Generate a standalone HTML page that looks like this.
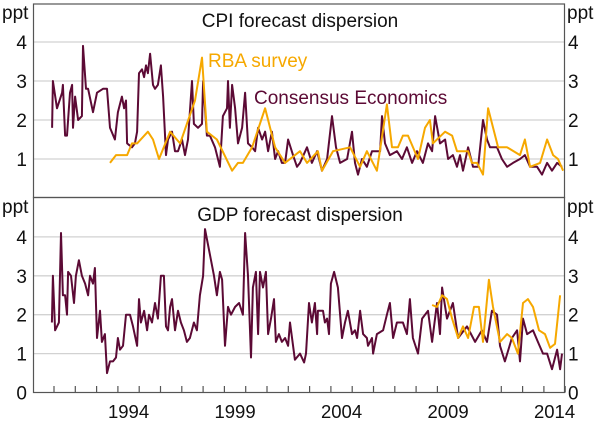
<!DOCTYPE html>
<html><head><meta charset="utf-8">
<style>
html,body{margin:0;padding:0;background:#fff;}
svg{display:block;font-family:"Liberation Sans",Arial,sans-serif;}
</style></head>
<body>
<svg id="chart" width="600" height="423" viewBox="0 0 600 423" xmlns="http://www.w3.org/2000/svg"></svg>
<script>
// ---- data ----
const yearTicks = [1991,1992,1993,1994,1995,1996,1997,1998,1999,2000,2001,2002,2003,2004,2005,2006,2007,2008,2009,2010,2011,2012,2013,2014,2015];
const yearLabels = [1994,1999,2004,2009,2014];
const yTicks = [0,1,2,3,4];

const cpiConsDates = [1990.91,1990.95,1991.14,1991.38,1991.42,1991.52,1991.61,1991.75,1991.85,1991.89,1991.99,1992.13,1992.31,1992.36,1992.5,1992.6,1992.83,1993.02,1993.3,1993.49,1993.63,1993.86,1994.0,1994.19,1994.29,1994.38,1994.43,1994.66,1994.8,1994.9,1994.99,1995.13,1995.23,1995.32,1995.41,1995.51,1995.65,1995.74,1995.88,1996.02,1996.12,1996.26,1996.35,1996.54,1996.68,1996.82,1997.01,1997.15,1997.29,1997.48,1997.57,1997.76,1997.95,1998.0,1998.18,1998.32,1998.56,1998.79,1998.93,1999.12,1999.17,1999.26,1999.36,1999.5,1999.64,1999.83,1999.97,2000.11,2000.3,2000.44,2000.58,2000.77,2000.91,2001.05,2001.23,2001.38,2001.52,2001.7,2001.85,2001.99,2002.22,2002.41,2002.55,2002.88,2003.11,2003.35,2003.58,2003.82,2004.05,2004.24,2004.43,2004.76,2004.99,2005.13,2005.27,2005.46,2005.69,2005.93,2006.31,2006.4,2006.54,2006.77,2007.1,2007.34,2007.57,2007.81,2008.04,2008.32,2008.56,2008.75,2008.89,2009.12,2009.36,2009.5,2009.73,2009.92,2010.06,2010.2,2010.44,2010.67,2010.91,2011.14,2011.33,2011.47,2011.8,2012.03,2012.27,2012.55,2012.88,2013.11,2013.35,2013.68,2013.91,2014.15,2014.38,2014.62,2014.85];
const cpiConsValues = [1.8,3.0,2.3,2.7,2.9,1.6,1.6,2.7,2.9,1.8,2.6,2.0,2.1,3.9,2.8,2.8,2.2,2.7,2.8,2.8,1.8,1.5,2.2,2.6,2.3,2.5,1.4,1.3,1.4,1.7,3.2,3.3,3.1,3.4,3.2,3.7,2.9,2.8,2.9,3.4,2.6,1.1,1.5,1.7,1.2,1.2,1.5,1.1,1.5,3.0,1.9,1.8,1.9,3.0,1.6,1.6,1.3,0.8,2.1,2.3,3.0,1.8,2.9,2.3,1.4,1.8,2.7,1.4,1.3,1.2,1.8,1.5,1.7,1.2,1.7,1.0,1.2,0.9,0.9,1.5,1.1,0.8,0.9,1.3,0.9,1.2,0.7,1.0,2.1,1.3,0.9,1.0,1.7,0.9,0.6,1.0,0.8,1.2,1.2,2.1,1.4,1.1,1.2,1.0,1.3,0.9,1.2,0.9,1.4,1.2,2.1,1.4,1.5,1.0,1.1,0.8,1.1,0.7,1.3,0.8,0.8,2.0,1.5,1.3,1.3,1.0,0.8,0.9,1.0,1.1,0.8,0.8,0.6,0.9,0.7,0.9,0.8];

const cpiRbaDates = [1993.63,1993.91,1994.43,1994.66,1994.9,1995.41,1995.65,1995.93,1996.45,1996.92,1997.62,1997.95,1998.18,1998.65,1999.36,1999.64,1999.87,2000.3,2000.91,2001.38,2001.85,2002.55,2002.88,2003.39,2003.58,2004.1,2004.9,2005.37,2005.69,2006.16,2006.63,2006.87,2007.15,2007.38,2007.62,2008.09,2008.42,2008.65,2008.79,2009.36,2009.69,2009.92,2010.44,2010.62,2010.86,2011.14,2011.38,2011.85,2012.27,2012.88,2013.11,2013.35,2013.82,2014.15,2014.43,2014.66,2014.9];
const cpiRbaValues = [0.9,1.1,1.1,1.4,1.4,1.7,1.5,1.0,1.7,1.4,2.5,3.6,1.7,1.5,0.7,0.9,0.9,1.3,2.3,1.3,0.9,1.2,0.9,1.2,0.7,1.2,1.3,0.8,1.2,0.7,2.4,1.3,1.3,1.6,1.6,1.0,1.8,2.0,1.4,1.7,1.6,1.2,1.2,0.9,0.9,0.6,2.3,1.3,1.3,1.1,1.5,0.8,0.9,1.5,1.1,1.0,0.7];

const gdpConsDates = [1990.9,1990.95,1991.05,1991.14,1991.23,1991.33,1991.42,1991.52,1991.61,1991.66,1991.8,1991.94,1992.03,1992.17,1992.31,1992.46,1992.6,1992.69,1992.83,1992.92,1993.02,1993.16,1993.25,1993.39,1993.49,1993.63,1993.77,1993.91,1994.0,1994.1,1994.24,1994.38,1994.57,1994.71,1994.9,1994.99,1995.08,1995.23,1995.37,1995.46,1995.6,1995.74,1995.88,1996.02,1996.16,1996.26,1996.35,1996.45,1996.54,1996.68,1996.82,1996.96,1997.1,1997.24,1997.38,1997.57,1997.71,1997.85,1998.0,1998.09,1998.23,1998.37,1998.51,1998.65,1998.79,1998.89,1999.03,1999.17,1999.31,1999.5,1999.69,1999.87,1999.97,2000.11,2000.25,2000.34,2000.48,2000.58,2000.67,2000.81,2000.95,2001.05,2001.19,2001.33,2001.42,2001.56,2001.7,2001.85,2001.99,2002.08,2002.31,2002.55,2002.74,2002.83,2002.97,2003.11,2003.25,2003.35,2003.39,2003.63,2003.72,2003.82,2003.91,2004.0,2004.15,2004.33,2004.52,2004.66,2004.8,2004.99,2005.13,2005.23,2005.37,2005.51,2005.69,2005.74,2005.93,2005.98,2006.16,2006.45,2006.63,2006.77,2006.92,2007.1,2007.38,2007.57,2007.71,2007.85,2008.09,2008.28,2008.56,2008.75,2008.98,2009.12,2009.22,2009.45,2009.73,2009.97,2010.39,2010.77,2011.09,2011.33,2011.56,2011.8,2011.94,2012.17,2012.5,2012.74,2012.88,2013.02,2013.21,2013.49,2013.72,2013.96,2014.15,2014.38,2014.62,2014.76,2014.85];
const gdpConsValues = [1.8,3.0,1.6,1.7,1.8,4.1,2.5,2.5,2.0,3.1,3.0,2.3,3.0,3.4,3.0,2.8,2.5,3.0,2.8,3.2,1.4,2.1,1.3,1.5,0.5,0.8,0.8,0.9,1.4,1.1,1.2,2.0,2.0,1.7,1.2,2.4,1.8,2.1,1.6,2.0,1.8,2.3,1.9,3.0,3.0,1.7,1.6,2.2,2.4,1.6,2.1,1.8,1.6,1.3,1.4,1.8,1.6,2.5,3.0,4.2,3.8,3.4,3.0,2.5,3.1,2.9,1.2,2.2,2.0,2.2,2.3,2.0,4.1,3.0,0.9,2.7,3.1,1.5,3.1,2.7,3.1,1.5,1.9,2.4,1.3,1.5,1.3,1.4,1.2,1.8,0.84,1.0,0.77,1.0,2.3,1.8,2.3,1.5,2.1,2.1,1.8,1.9,1.5,2.8,3.1,2.7,1.4,1.8,2.1,1.5,1.6,1.4,2.1,1.5,1.4,1.2,1.4,1.0,1.5,1.6,2.0,2.3,1.4,1.8,1.8,1.5,2.4,1.4,1.0,1.9,2.1,1.3,2.3,1.5,2.7,1.9,2.3,1.4,1.7,1.3,1.6,1.3,2.1,2.0,1.2,0.8,1.4,1.6,0.8,1.9,1.5,1.6,1.3,1.0,1.0,0.6,1.1,0.6,1.0];

const gdpRbaDates = [2008.75,2008.98,2009.22,2009.45,2009.69,2009.97,2010.2,2010.44,2010.72,2010.95,2011.14,2011.42,2011.61,2011.94,2012.27,2012.5,2012.78,2013.02,2013.25,2013.49,2013.77,2014.05,2014.29,2014.52,2014.76];
const gdpRbaValues = [2.25,2.2,2.5,2.4,1.9,1.4,1.7,1.4,2.2,2.2,1.3,2.9,2.2,1.3,1.5,1.4,1.0,2.3,2.4,2.2,1.6,1.5,1.15,1.25,2.5];

// ---- layout ----
const NS = "http://www.w3.org/2000/svg";
const svg = document.getElementById('chart');
const L = 33.5, R = 564.5;
const x = yr => 54 + (yr - 1991) * 21.3;
const yTop = v => 198 - v * 39;
const yBot = v => 392.5 - v * 38.9;
const CONS = "#5c0a35", RBA = "#f6a800";
const FS = 19;

function mk(tag, attrs, parent){
  const e = document.createElementNS(NS, tag);
  for (const k in attrs) e.setAttribute(k, attrs[k]);
  (parent || svg).appendChild(e);
  return e;
}
function txt(s, attrs){ const t = mk('text', attrs); t.textContent = s; return t; }

// gridlines
yTicks.forEach(v => {
  if (v === 0) return;
  const g1 = mk('line', {x1:L, x2:R, y1:yTop(v), y2:yTop(v), stroke:'#d2d2d2', 'stroke-width':1.3});
  
  
  const g2 = mk('line', {x1:L, x2:R, y1:yBot(v), y2:yBot(v), stroke:'#d2d2d2', 'stroke-width':1.3});
  
  
});

// frames
const f1 = mk('rect', {x:L, y:4, width:R-L, height:193.5, fill:'none', stroke:'#555', 'stroke-width':1.2});


const f2 = mk('rect', {x:L, y:197.5, width:R-L, height:195, fill:'none', stroke:'#555', 'stroke-width':1.2});



// x ticks
yearTicks.forEach(yr => {
  const t = mk('line', {x1:x(yr), x2:x(yr), y1:392.5, y2:386, stroke:'#555', 'stroke-width':1.2});
  
  
});
yearLabels.forEach(yr => {
  const t = txt(String(yr), {x:x(yr+0.5), y:418, 'font-size':18.5, 'text-anchor':'middle', fill:'#111'});
  
  
});

// y labels
yTicks.forEach(v => {
  if (v > 0) {
    const a = txt(String(v), {x:27, y:yTop(v)+7, 'font-size':FS, 'text-anchor':'end', fill:'#111'});
    
    
    const b = txt(String(v), {x:568, y:yTop(v)+7, 'font-size':FS, fill:'#111'});
    
    
  }
  const c = txt(String(v), {x:27, y:yBot(v)+7, 'font-size':FS, 'text-anchor':'end', fill:'#111'});
  
  
  const d = txt(String(v), {x:568, y:yBot(v)+7, 'font-size':FS, fill:'#111'});
  
  
});
[[2,19],[567,19],[2,213],[567,213]].forEach(p => {
  const u = txt('ppt', {x:p[0], y:p[1], 'font-size':FS, fill:'#111'});
  
  
});

// titles
const t1 = txt('CPI forecast dispersion', {x:300, y:27, 'font-size':FS, 'text-anchor':'middle', fill:'#111'});


const t2 = txt('GDP forecast dispersion', {x:300, y:221, 'font-size':FS, 'text-anchor':'middle', fill:'#111'});


const l1 = txt('RBA survey', {x:208, y:67, 'font-size':FS, fill:RBA});


const l2 = txt('Consensus Economics', {x:254, y:104, 'font-size':FS, fill:CONS});



// series
function path(dates, vals, yf){
  return dates.map((d,i) => (i ? 'L' : 'M') + x(d).toFixed(1) + ',' + yf(vals[i]).toFixed(1)).join('');
}
const s1 = mk('path', {d:path(cpiConsDates, cpiConsValues, yTop), fill:'none', stroke:CONS, 'stroke-width':2, 'stroke-linejoin':'round'});


const s2 = mk('path', {d:path(cpiRbaDates, cpiRbaValues, yTop), fill:'none', stroke:RBA, 'stroke-width':2, 'stroke-linejoin':'round'});


const s3 = mk('path', {d:path(gdpConsDates, gdpConsValues, yBot), fill:'none', stroke:CONS, 'stroke-width':2, 'stroke-linejoin':'round'});


const s4 = mk('path', {d:path(gdpRbaDates, gdpRbaValues, yBot), fill:'none', stroke:RBA, 'stroke-width':2, 'stroke-linejoin':'round'});


</script>
</body></html>
